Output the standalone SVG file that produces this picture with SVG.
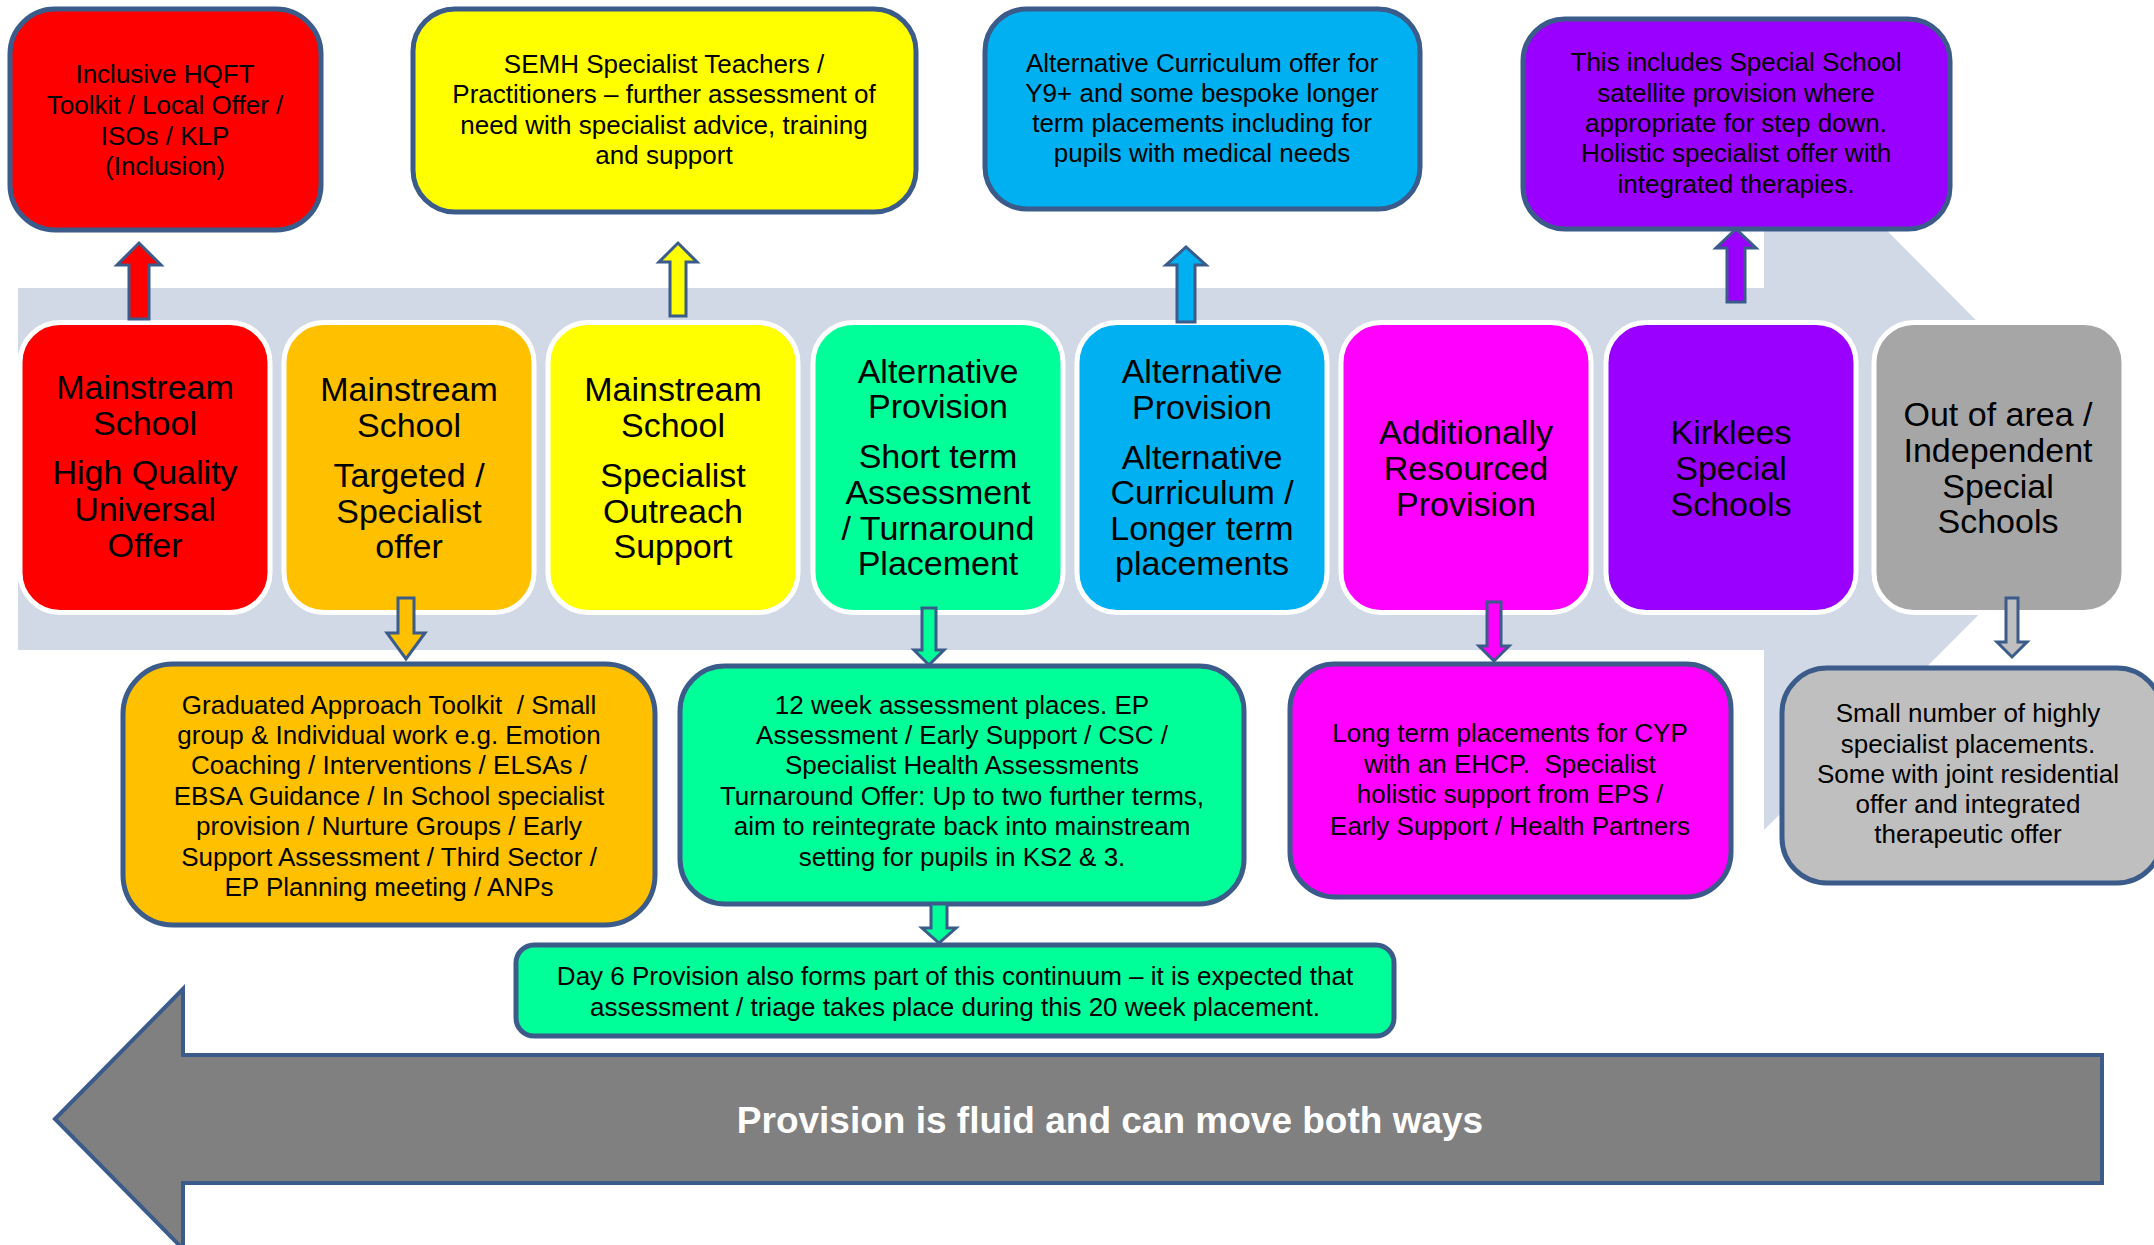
<svg xmlns="http://www.w3.org/2000/svg" width="2154" height="1245" viewBox="0 0 2154 1245">
<style>
text{font-family:"Liberation Sans",Arial,sans-serif;text-anchor:middle;fill:#000;white-space:pre}
.main{font-size:34px}
.small{font-size:26px}
.big{font-size:37px;font-weight:bold;fill:#fff}
.mbox{stroke:#fff;stroke-width:5}
.obox{stroke:#3B5B8A;stroke-width:5}
.arr{stroke:#3B5B8A;stroke-width:3;stroke-linejoin:miter}
</style>
<rect width="2154" height="1245" fill="#fff"/>
<g id="background-arrow">
<path d="M18,288 L1764,288 L1764,107 L2124,469 L1764,830 L1764,650 L18,650 Z" fill="#D1D9E6"/>
</g>
<g id="fluid-arrow">
<path d="M55,1119 L183,989 L183,1055 L2102,1055 L2102,1183 L183,1183 L183,1249 Z" fill="#808080" stroke="#3B5B8A" stroke-width="4"/>
<text class="big" x="1110" y="1133">Provision is fluid and can move both ways</text>
</g>
<g id="top-red">
<rect class="obox" x="10" y="9" width="311" height="221" rx="45" fill="#FF0000"/>
<text class="small" x="165" y="83">Inclusive HQFT</text>
<text class="small" x="165" y="114">Toolkit / Local Offer /</text>
<text class="small" x="165" y="145">ISOs / KLP</text>
<text class="small" x="165" y="175">(Inclusion)</text>
</g>
<g id="top-yellow">
<rect class="obox" x="413" y="9" width="503" height="203" rx="42" fill="#FFFF00"/>
<text class="small" x="664" y="73">SEMH Specialist Teachers /</text>
<text class="small" x="664" y="103">Practitioners – further assessment of</text>
<text class="small" x="664" y="134">need with specialist advice, training</text>
<text class="small" x="664" y="164">and support</text>
</g>
<g id="top-blue">
<rect class="obox" x="985" y="9" width="435" height="200" rx="42" fill="#00B0F0"/>
<text class="small" x="1202" y="72">Alternative Curriculum offer for</text>
<text class="small" x="1202" y="102">Y9+ and some bespoke longer</text>
<text class="small" x="1202" y="132">term placements including for</text>
<text class="small" x="1202" y="162">pupils with medical needs</text>
</g>
<g id="top-purple">
<rect class="obox" x="1523" y="19" width="427" height="210" rx="42" fill="#9900FF"/>
<text class="small" x="1736" y="71">This includes Special School</text>
<text class="small" x="1736" y="102">satellite provision where</text>
<text class="small" x="1736" y="132">appropriate for step down.</text>
<text class="small" x="1736" y="162">Holistic specialist offer with</text>
<text class="small" x="1736" y="193">integrated therapies.</text>
</g>
<g id="main-red">
<rect class="mbox" x="20" y="322.5" width="250" height="290" rx="40" fill="#FF0000"/>
<text class="main" x="145" y="399">Mainstream</text>
<text class="main" x="145" y="435">School</text>
<text class="main" x="145" y="484">High Quality</text>
<text class="main" x="145" y="521">Universal</text>
<text class="main" x="145" y="557">Offer</text>
</g>
<g id="main-orange">
<rect class="mbox" x="284" y="322.5" width="250" height="290" rx="40" fill="#FFC000"/>
<text class="main" x="409" y="401">Mainstream</text>
<text class="main" x="409" y="437">School</text>
<text class="main" x="409" y="487">Targeted /</text>
<text class="main" x="409" y="523">Specialist</text>
<text class="main" x="409" y="558">offer</text>
</g>
<g id="main-yellow">
<rect class="mbox" x="548" y="322.5" width="250" height="290" rx="40" fill="#FFFF00"/>
<text class="main" x="673" y="401">Mainstream</text>
<text class="main" x="673" y="437">School</text>
<text class="main" x="673" y="487">Specialist</text>
<text class="main" x="673" y="523">Outreach</text>
<text class="main" x="673" y="558">Support</text>
</g>
<g id="main-green">
<rect class="mbox" x="813" y="322.5" width="250" height="290" rx="40" fill="#00FF99"/>
<text class="main" x="938" y="383">Alternative</text>
<text class="main" x="938" y="418">Provision</text>
<text class="main" x="938" y="468">Short term</text>
<text class="main" x="938" y="504">Assessment</text>
<text class="main" x="938" y="540">/ Turnaround</text>
<text class="main" x="938" y="575">Placement</text>
</g>
<g id="main-blue">
<rect class="mbox" x="1077" y="322.5" width="250" height="290" rx="40" fill="#00B0F0"/>
<text class="main" x="1202" y="383">Alternative</text>
<text class="main" x="1202" y="419">Provision</text>
<text class="main" x="1202" y="469">Alternative</text>
<text class="main" x="1202" y="504">Curriculum /</text>
<text class="main" x="1202" y="540">Longer term</text>
<text class="main" x="1202" y="575">placements</text>
</g>
<g id="main-magenta">
<rect class="mbox" x="1341" y="322.5" width="250" height="290" rx="40" fill="#FF00FF"/>
<text class="main" x="1466" y="444">Additionally</text>
<text class="main" x="1466" y="480">Resourced</text>
<text class="main" x="1466" y="516">Provision</text>
</g>
<g id="main-purple">
<rect class="mbox" x="1606" y="322.5" width="250" height="290" rx="40" fill="#9900FF"/>
<text class="main" x="1731" y="444">Kirklees</text>
<text class="main" x="1731" y="480">Special</text>
<text class="main" x="1731" y="516">Schools</text>
</g>
<g id="main-grey">
<rect class="mbox" x="1874" y="322.5" width="250" height="290" rx="40" fill="#A6A6A6"/>
<text class="main" x="1998" y="426">Out of area /</text>
<text class="main" x="1998" y="462">Independent</text>
<text class="main" x="1998" y="498">Special</text>
<text class="main" x="1998" y="533">Schools</text>
</g>
<g id="low-orange">
<rect class="obox" x="123" y="664" width="532" height="261" rx="50" fill="#FFC000"/>
<text class="small" x="389" y="714">Graduated Approach Toolkit  / Small</text>
<text class="small" x="389" y="744">group &amp; Individual work e.g. Emotion</text>
<text class="small" x="389" y="774">Coaching / Interventions / ELSAs /</text>
<text class="small" x="389" y="805">EBSA Guidance / In School specialist</text>
<text class="small" x="389" y="835">provision / Nurture Groups / Early</text>
<text class="small" x="389" y="866">Support Assessment / Third Sector /</text>
<text class="small" x="389" y="896">EP Planning meeting / ANPs</text>
</g>
<g id="low-green">
<rect class="obox" x="680" y="666" width="564" height="238" rx="45" fill="#00FF99"/>
<text class="small" x="962" y="714">12 week assessment places. EP</text>
<text class="small" x="962" y="744">Assessment / Early Support / CSC /</text>
<text class="small" x="962" y="774">Specialist Health Assessments</text>
<text class="small" x="962" y="805">Turnaround Offer: Up to two further terms,</text>
<text class="small" x="962" y="835">aim to reintegrate back into mainstream</text>
<text class="small" x="962" y="866">setting for pupils in KS2 &amp; 3.</text>
</g>
<g id="day6">
<rect class="obox" x="516" y="945" width="878" height="91" rx="18" fill="#00FF99"/>
<text class="small" x="955" y="985">Day 6 Provision also forms part of this continuum – it is expected that</text>
<text class="small" x="955" y="1016">assessment / triage takes place during this 20 week placement.</text>
</g>
<g id="low-magenta">
<rect class="obox" x="1290" y="664" width="441" height="233" rx="45" fill="#FF00FF"/>
<text class="small" x="1510" y="742">Long term placements for CYP</text>
<text class="small" x="1510" y="773">with an EHCP.  Specialist</text>
<text class="small" x="1510" y="803">holistic support from EPS /</text>
<text class="small" x="1510" y="835">Early Support / Health Partners</text>
</g>
<g id="low-grey">
<rect class="obox" x="1782" y="668" width="380" height="215" rx="45" fill="#BFBFBF"/>
<text class="small" x="1968" y="722">Small number of highly</text>
<text class="small" x="1968" y="753">specialist placements.</text>
<text class="small" x="1968" y="783">Some with joint residential</text>
<text class="small" x="1968" y="813">offer and integrated</text>
<text class="small" x="1968" y="843">therapeutic offer</text>
</g>
<g id="connectors">
<path class="arr" fill="#FF0000" d="M129,319 L129,265 L117,265 L139,243 L161,265 L149,265 L149,319 Z"/>
<path class="arr" fill="#FFFF00" d="M670,316 L670,262 L659,262 L678,243 L697,262 L686,262 L686,316 Z"/>
<path class="arr" fill="#00B0F0" d="M1177,322 L1177,265 L1166,265 L1186,247 L1206,265 L1195,265 L1195,322 Z"/>
<path class="arr" fill="#9900FF" d="M1727,302 L1727,248 L1716,248 L1736,229 L1756,248 L1745,248 L1745,302 Z"/>
<path class="arr" fill="#FFC000" d="M398,598 L398,633 L387,633 L406,659 L425,633 L414,633 L414,598 Z"/>
<path class="arr" fill="#00FF99" d="M922,608 L922,650 L914,650 L929,665 L944,650 L936,650 L936,608 Z"/>
<path class="arr" fill="#00FF99" d="M931,904 L931,928 L922,928 L939,943 L956,928 L947,928 L947,904 Z"/>
<path class="arr" fill="#FF00FF" d="M1487,602 L1487,646 L1479,646 L1494,661 L1509,646 L1501,646 L1501,602 Z"/>
<path class="arr" fill="#BFBFBF" d="M2006,598 L2006,642 L1997,642 L2012,657 L2027,642 L2018,642 L2018,598 Z"/>
</g>
</svg>
